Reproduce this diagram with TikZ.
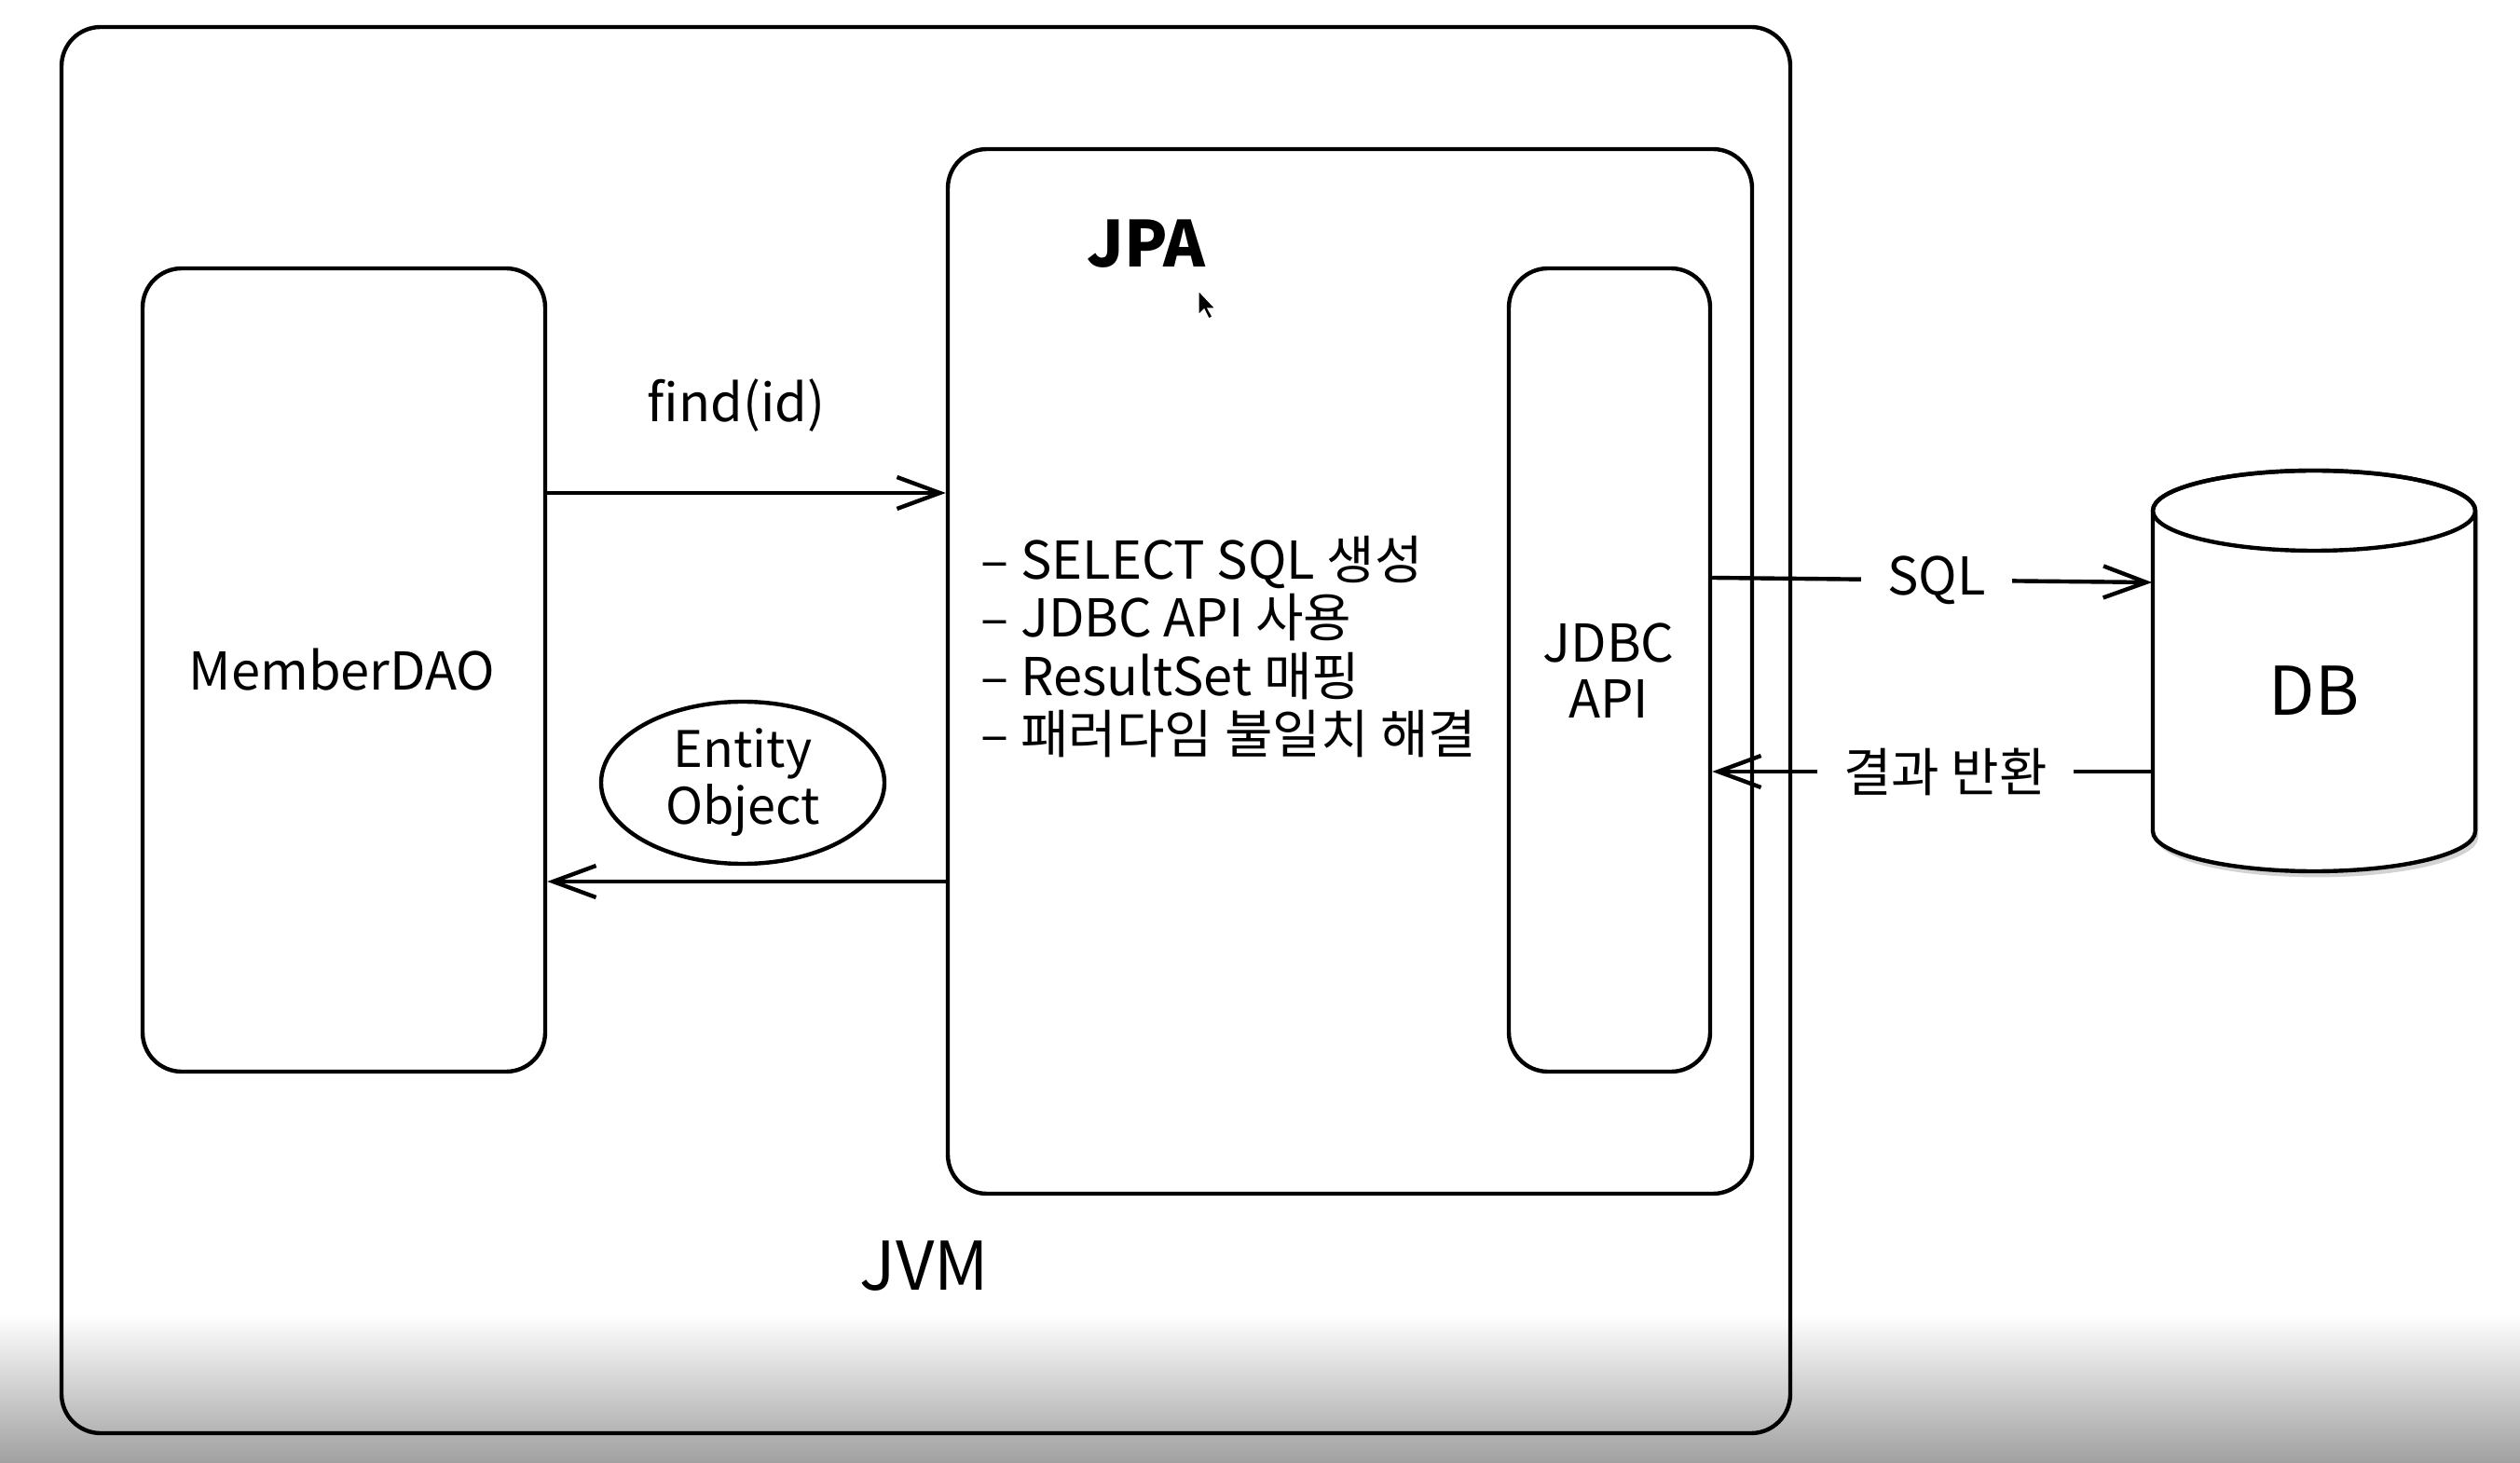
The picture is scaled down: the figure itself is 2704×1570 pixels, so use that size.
\documentclass[tikz,border=0pt]{standalone}
\usepackage{fontspec}
\setmainfont{Noto Sans CJK KR}
\usetikzlibrary{arrows.meta,shapes.geometric,shadows,calc}
\begin{document}
\begin{tikzpicture}[x=0.25pt,y=-0.25pt,
  box/.style={draw, line width=1.1pt, rounded corners=10.5pt, inner sep=0pt},
  lbl/.style={font=\fontsize{14}{17}\selectfont, inner sep=0pt},
  conn/.style={line width=1.1pt, -{Straight Barb[length=11.5pt,width=8.5pt,line width=1.1pt]}},
  cut/.style={font=\fontsize{14}{17}\selectfont, fill=white, inner xsep=7pt, inner ysep=2pt},
]
\useasboundingbox (0,0) rectangle (2704,1570);
\shade[top color=white, bottom color=black!37] (0,1410) rectangle (2704,1570);

% boxes
\node[box, minimum width=463.75pt, minimum height=377.25pt] (jvm) at (993.5,783.5) {};
\node[box, minimum width=215.75pt, minimum height=280.25pt] (jpa) at (1448.5,720.5) {};
\node[box, minimum width=108pt, minimum height=215.5pt] (member) at (369,719) {};
\node[box, minimum width=54pt, minimum height=215.5pt] (jdbc) at (1727,719) {};

% texts
\node[lbl] (membert) at (367,719) {MemberDAO};
\node[lbl, align=center, font=\fontsize{14}{15}\selectfont] (jdbct) at (1726,720) {JDBC\\API};
\node[lbl, font=\fontsize{17}{20}\selectfont\bfseries] (jpat) at (1230,262) {JPA};
\node[lbl, font=\fontsize{18}{20}\selectfont] (jvmt) at (992,1359) {JVM};
\node[lbl, anchor=west, align=left, font=\fontsize{14}{15.65}\selectfont] (jpatext) at (1052,694)
  {– SELECT SQL 생성\\– JDBC API 사용\\– ResultSet 매핑\\– 패러다임 불일치 해결};
\node[lbl] (findt) at (790,435) {find(id)};
\node[draw, ellipse, line width=1.1pt, minimum width=76pt, minimum height=43.5pt, inner sep=0pt,
  align=center, font=\fontsize{13.5}{15.2}\selectfont] (entity) at (797,840) {Entity\\Object};

% DB cylinder
\node[inner sep=0pt, minimum width=86.5pt, minimum height=107.5pt] (db) at (2483,720) {};
\path[fill=white, draw, line width=1.1pt,
  drop shadow={shadow xshift=0.8pt, shadow yshift=-1.6pt, opacity=0.35}]
  (2310,548) -- (2310,892) arc[start angle=180, end angle=0, x radius=173, y radius=43]
  -- (2656,548) arc[start angle=0, end angle=-180, x radius=173, y radius=43] -- cycle;
\draw[line width=1.1pt] (2483,548) ellipse[x radius=173, y radius=43];
\node[lbl, font=\fontsize{18}{20}\selectfont] (dbt) at (2483,741) {DB};

% coordinates for connector heights
\coordinate (findy) at (0,529);
\coordinate (rety) at (0,946);
\coordinate (sqly) at (0,620);
\coordinate (sqly2) at (0,625);
\coordinate (resy) at (0,828);

% connectors
\draw[conn] (member.east |- findy) -- (jpa.west |- findy);
\draw[conn] (jpa.west |- rety) -- (member.east |- rety);
\draw[conn] (jdbc.east |- sqly) -- node[cut, pos=0.51] (sqlt) {SQL} (db.west |- sqly2);
\draw[conn] (db.west |- resy) -- node[cut, pos=0.47] (rest) {결과 반환} (jdbc.east |- resy);

% mouse cursor
\fill[black, draw=white, line width=0.3pt] (1286,312) -- (1286,338) -- (1292,332) -- (1297,342)
  -- (1301,340) -- (1296,331) -- (1304,331) -- cycle;
\end{tikzpicture}
\end{document}
